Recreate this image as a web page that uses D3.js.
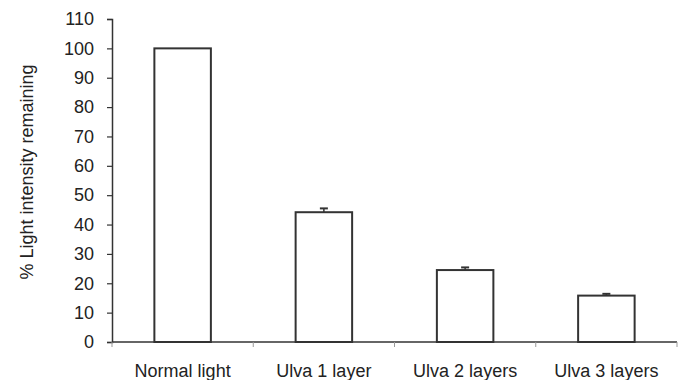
<!DOCTYPE html>
<html>
<head>
<meta charset="utf-8">
<script src="https://cdn.jsdelivr.net/npm/d3@7"></script>
<style>
  html, body { margin: 0; padding: 0; background: #fff; }
  svg { display: block; }
  text { font-family: "Liberation Sans", Arial, sans-serif; fill: #222; }
</style>
</head>
<body>
<svg id="chart" width="684" height="380"></svg>
<script>
// Light remaining under layers of Ulva
const categories = ["Normal light", "Ulva 1 layer", "Ulva 2 layers", "Ulva 3 layers"];
const values = [100, 44.2, 24.5, 15.8];
const errors = [0, 1.3, 0.9, 0.6];
const yTicks = [0, 10, 20, 30, 40, 50, 60, 70, 80, 90, 100, 110];
const yLabel = "% Light intensity remaining";

const svg = d3.select("#chart");
const margin = { left: 112, right: 7, top: 19, bottom: 38 };
const W = 684, H = 380;
const ink = "#333";
const fontSize = 18;

const x = d3.scaleBand()
  .domain(categories)
  .range([margin.left, W - margin.right])
  .paddingInner(0.6)
  .paddingOuter(0.3);

const y = d3.scaleLinear()
  .domain([0, 110])
  .range([H - margin.bottom, margin.top]);

// Category boundary ticks along the x axis
const x0 = margin.left, x1 = W - margin.right;
const bounds = d3.range(categories.length + 1).map(i => x0 + i * (x1 - x0) / categories.length);

const g = svg.append("g");

// Bars
g.selectAll("rect.bar")
  .data(categories)
  .join("rect")
  .attr("class", "bar")
  .attr("x", d => x(d))
  .attr("width", x.bandwidth())
  .attr("y", (d, i) => y(values[i]))
  .attr("height", (d, i) => y(0) - y(values[i]))
  .attr("fill", "#fff")
  .attr("stroke", ink)
  .attr("stroke-width", 2);

// Error bars (upper only)
const eb = g.selectAll("g.err")
  .data(categories.map((c, i) => ({ c, v: values[i], e: errors[i] })).filter(d => d.e > 0))
  .join("g")
  .attr("class", "err");
eb.append("line")
  .attr("x1", d => x(d.c) + x.bandwidth() / 2)
  .attr("x2", d => x(d.c) + x.bandwidth() / 2)
  .attr("y1", d => y(d.v))
  .attr("y2", d => y(d.v + d.e))
  .attr("stroke", ink).attr("stroke-width", 1.5);
eb.append("line")
  .attr("x1", d => x(d.c) + x.bandwidth() / 2 - 4)
  .attr("x2", d => x(d.c) + x.bandwidth() / 2 + 4)
  .attr("y1", d => y(d.v + d.e))
  .attr("y2", d => y(d.v + d.e))
  .attr("stroke", ink).attr("stroke-width", 2);

// Y axis
const yAxis = d3.axisLeft(y).tickValues(yTicks).tickSize(5).tickPadding(13);
const ya = svg.append("g").attr("transform", `translate(${margin.left},0)`).call(yAxis);
ya.select(".domain").attr("stroke", ink).attr("stroke-width", 1.5);
ya.selectAll(".tick line").attr("stroke", ink).attr("stroke-width", 1.2);
ya.selectAll(".tick text").attr("font-size", fontSize).attr("fill", "#222")
  .attr("font-family", "Liberation Sans, Arial, sans-serif");

// X axis line with category boundary ticks
const xa = svg.append("g");
xa.append("line")
  .attr("x1", x0).attr("x2", x1)
  .attr("y1", y(0)).attr("y2", y(0))
  .attr("stroke", ink).attr("stroke-width", 1.5);
xa.selectAll("line.bt")
  .data(bounds)
  .join("line")
  .attr("class", "bt")
  .attr("x1", d => d).attr("x2", d => d)
  .attr("y1", y(0)).attr("y2", y(0) + 5)
  .attr("stroke", "#999").attr("stroke-width", 1);
xa.selectAll("text.cat")
  .data(categories)
  .join("text")
  .attr("class", "cat")
  .attr("x", d => x(d) + x.bandwidth() / 2)
  .attr("y", 377)
  .attr("text-anchor", "middle")
  .attr("font-size", fontSize)
  .text(d => d);

// Y axis title
svg.append("text")
  .attr("transform", `translate(33,172) rotate(-90)`)
  .attr("text-anchor", "middle")
  .attr("font-size", fontSize)
  .text(yLabel);
</script>
</body>
</html>
